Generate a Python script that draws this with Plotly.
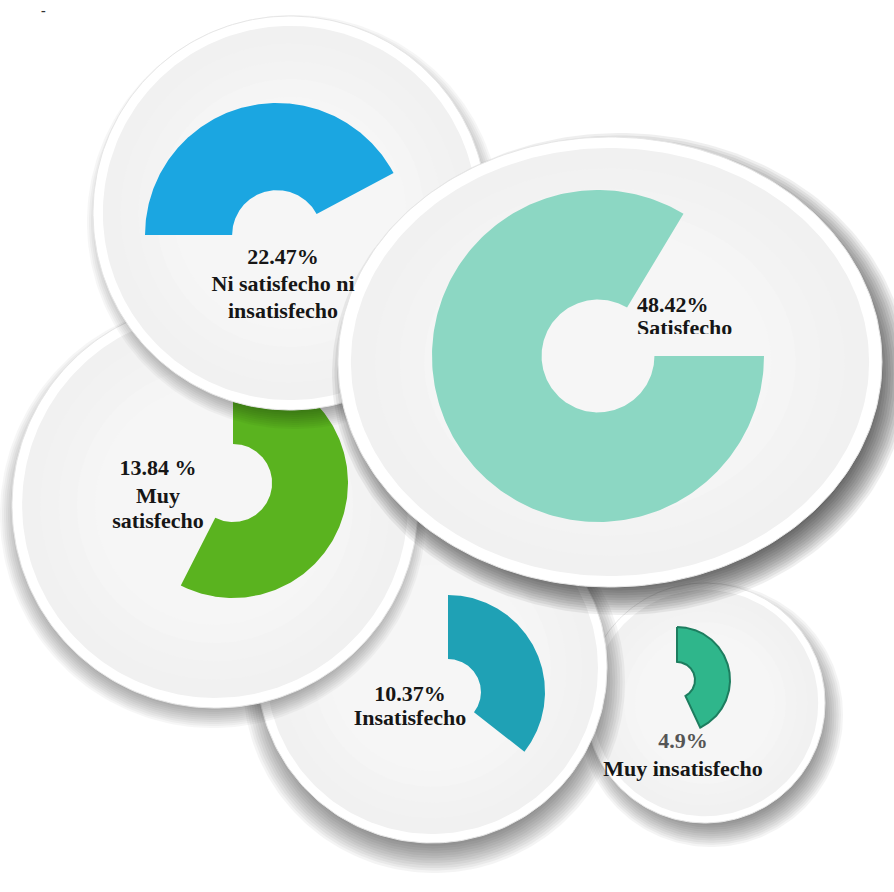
import numpy as np
import plotly.graph_objects as go

W, H = 894, 892

# ---- data -------------------------------------------------------------
category_lines = [
    ["Ni satisfecho ni", "insatisfecho"],
    ["Satisfecho"],
    ["Muy", "satisfecho"],
    ["Insatisfecho"],
    ["Muy insatisfecho"],
]
categories = [" ".join(l) for l in category_lines]
shares = [22.47, 48.42, 13.84, 10.37, 4.9]
pct_sep = ["", "", " ", "", ""]
arc_sweep_deg = [152, 301, 207, 128, 154]
arc_colors = ["#1ba6e1", "#8cd7c3", "#5ab31f", "#1fa1b5", "#2fb68b"]

# ---- layout of each bubble (pixel space) -----------------------------
bubbles = [
    dict(plate=(290, 213, 197, 197), shadow=(4, 9, 18, 0.03),
         ring=(277, 235, 132), start=180,
         text_x=283, text_y=[258, 285, 312], anchor="middle center"),
    dict(plate=(610, 362, 272, 225), shadow=(10, 12, 24, 0.06),
         ring=(598, 356, 166), start=0,
         text_x=637, text_y=[306, 329], anchor="middle right"),
    dict(plate=(215, 505, 203, 203), shadow=(-2, 10, 18, 0.03),
         ring=(233, 483, 115), start=90,
         text_x=158, text_y=[469, 497, 522], anchor="middle center"),
    dict(plate=(432, 668, 175, 175), shadow=(2, 14, 24, 0.04),
         ring=(448, 692, 97), start=90,
         text_x=410, text_y=[695, 719], anchor="middle center"),
    dict(plate=(705, 703, 120, 120), shadow=(6, 12, 20, 0.04),
         ring=(677, 680, 53), start=90,
         text_x=683, text_y=[742, 770], anchor="middle center"),
]
draw_order = [4, 3, 2, 0, 1]
HOLE = 0.34
INNER_COLORS = ["#f1f1f1", "#f2f2f2", "#f3f3f3", "#f5f5f5", "#f6f6f6"]


def ellipse(cx, cy, rx, ry, n=240):
    t = np.linspace(0, 2 * np.pi, n)
    return cx + rx * np.cos(t), cy + ry * np.sin(t)


def ring_path(cx, cy, R, r, start, sweep, n=240):
    th = np.radians(start - np.linspace(0, sweep, n))
    xo, yo = cx + R * np.cos(th), cy - R * np.sin(th)
    xi, yi = cx + r * np.cos(th[::-1]), cy - r * np.sin(th[::-1])
    x = np.concatenate([xo, xi, xo[:1]])
    y = np.concatenate([yo, yi, yo[:1]])
    return x, y


def poly(x, y, fill, opacity=1.0, line_color=None, line_width=0):
    return go.Scatter(
        x=x, y=y, mode="lines", fill="toself", fillcolor=fill,
        line=dict(color=line_color or fill, width=line_width),
        opacity=opacity, hoverinfo="skip", showlegend=False,
    )


fig = go.Figure()

for i in draw_order:
    b = bubbles[i]
    cx, cy, rx, ry = b["plate"]
    dx, dy, blur, alpha = b["shadow"]
    # soft drop shadow built from stacked translucent ellipses
    for k in range(14):
        grow = -16 + (blur + 8) * k / 13
        x, y = ellipse(cx + dx, cy + dy, rx + grow, ry + grow)
        fig.add_trace(poly(x, y, "#000000", opacity=alpha))
    # white rim
    x, y = ellipse(cx, cy, rx, ry)
    fig.add_trace(poly(x, y, "#ffffff", line_color="#e6e6e6", line_width=1))
    # slightly grey plate interior, lighter toward the middle
    for k, col in enumerate(INNER_COLORS):
        s = 0.96 - 0.09 * k
        x, y = ellipse(cx, cy, rx * s - 2, ry * s - 2)
        fig.add_trace(poly(x, y, col))
    # the coloured ring segment
    rcx, rcy, R = b["ring"]
    x, y = ring_path(rcx, rcy, R, R * HOLE, b["start"], arc_sweep_deg[i])
    if i == 4:
        fig.add_trace(poly(x, y, arc_colors[i], line_color="#1d7d5f", line_width=2))
    else:
        fig.add_trace(poly(x, y, arc_colors[i]))

# labels
for i, b in enumerate(bubbles):
    lines = [f"{shares[i]:g}{pct_sep[i]}%"] + category_lines[i]
    for j, (txt, ty) in enumerate(zip(lines, b["text_y"])):
        color = "#555555" if (i == 4 and j == 0) else "#161616"
        fig.add_trace(go.Scatter(
            x=[b["text_x"]], y=[ty], mode="text", text=[f"<b>{txt}</b>"],
            textposition=b["anchor"],
            textfont=dict(family="Liberation Serif", size=22, color=color),
            hoverinfo="skip", showlegend=False, cliponaxis=False,
        ))

# the "Satisfecho" caption is cut off by its text box
fig.add_trace(poly([630, 752, 752, 630, 630], [334, 334, 352, 352, 334], INNER_COLORS[-1]))

fig.add_annotation(x=43, y=10, text="<b>-</b>", showarrow=False,
                   font=dict(family="Liberation Serif", size=14, color="#333333"))

fig.update_layout(
    width=W, height=H, margin=dict(l=0, r=0, t=0, b=0),
    paper_bgcolor="#ffffff", plot_bgcolor="#ffffff",
    showlegend=False, hovermode=False,
    xaxis=dict(range=[0, W], visible=False, fixedrange=True),
    yaxis=dict(range=[H, 0], visible=False, fixedrange=True),
)

fig.write_html("out.html")
